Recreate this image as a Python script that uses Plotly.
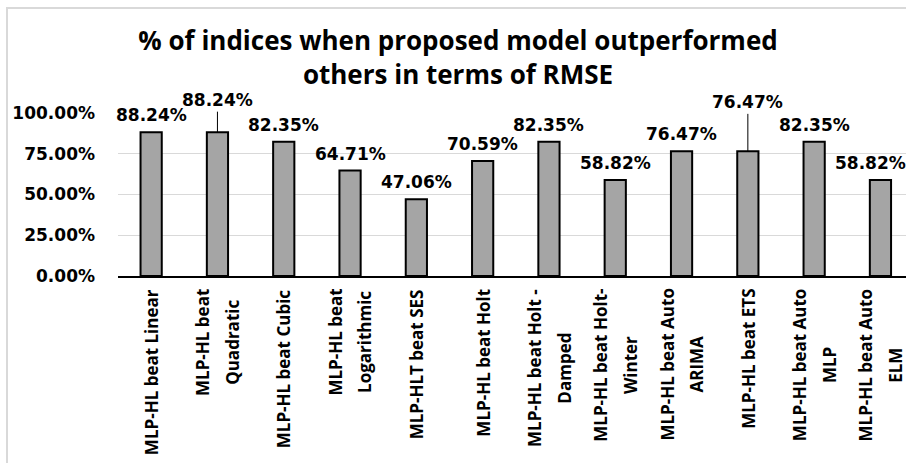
import plotly.graph_objects as go

# Share of indices where MLP-HL had lower RMSE than each competitor
categories = [
    "MLP-HL beat Linear",
    "MLP-HL beat<br>Quadratic",
    "MLP-HL beat Cubic",
    "MLP-HL beat<br>Logarithmic",
    "MLP-HLT beat SES",
    "MLP-HL beat Holt",
    "MLP-HL beat Holt -<br>Damped",
    "MLP-HL beat Holt-<br>Winter",
    "MLP-HL beat Auto<br>ARIMA",
    "MLP-HL beat ETS",
    "MLP-HL beat Auto<br>MLP",
    "MLP-HL beat Auto<br>ELM",
]
values = [0.8824, 0.8824, 0.8235, 0.6471, 0.4706, 0.7059,
          0.8235, 0.5882, 0.7647, 0.7647, 0.8235, 0.5882]
value_labels = ["88.24%", "88.24%", "82.35%", "64.71%", "47.06%", "70.59%",
                "82.35%", "58.82%", "76.47%", "76.47%", "82.35%", "58.82%"]
y_ticks = [0, 0.25, 0.5, 0.75, 1.0]
y_tick_labels = ["0.00%", "25.00%", "50.00%", "75.00%", "100.00%"]

W, H = 906, 463
ML, MR, MT, MB = 118, 0, 113, 187
PLOT_W = W - ML - MR
PLOT_H = H - MT - MB

# category span per bar in px; the chart continues a little past the right edge
unit_px = 66.3
x_max = -0.5 + PLOT_W / unit_px

x_idx = list(range(len(categories)))

fig = go.Figure()
fig.add_trace(go.Bar(
    x=x_idx,
    y=values,
    width=0.32,
    marker=dict(color="#a5a5a5", line=dict(color="#000000", width=2)),
    hoverinfo="skip",
))

num_font = dict(family="DejaVu Sans", size=17, color="#000000", weight="bold")
# the outer size sets the line pitch, the inner span sets the glyph size
cat_font = dict(family="Open Sans", size=23, color="#000000", weight="bold")
cat_glyph_px = 17

annotations = []
# value labels; two of them sit higher with a leader line
leader_offsets = {1: -32, 9: -49}
x_shifts = {11: -10}
for i, (v, lab) in enumerate(zip(values, value_labels)):
    if i in leader_offsets:
        annotations.append(dict(
            x=i, y=v, xref="x", yref="y", text=lab, font=num_font,
            showarrow=True, arrowhead=0, arrowwidth=1, arrowcolor="#000000",
            ax=0, ay=leader_offsets[i], standoff=0,
        ))
    else:
        annotations.append(dict(
            x=i, y=v, xref="x", yref="y", text=lab, font=num_font,
            showarrow=False, yanchor="middle", yshift=17,
            xshift=x_shifts.get(i, 0),
        ))

# rotated category labels, lines centred on each other
for i, cat in enumerate(categories):
    text = "<br>".join(
        f"<span style='font-size:{cat_glyph_px}px'>{line}</span>"
        for line in cat.split("<br>")
    )
    annotations.append(dict(
        x=i, y=0, xref="x", yref="y", text=text, font=cat_font,
        showarrow=False, textangle=-90, align="center",
        xanchor="center", yanchor="top", yshift=-11,
    ))

# light chart frame along the top and left edges
def px_to_paper_x(px):
    return (px - ML) / PLOT_W

def px_to_paper_y(py):
    return (H - MB - py) / PLOT_H

frame = "#d9d9d9"
shapes = [
    dict(type="line", xref="paper", yref="paper",
         x0=px_to_paper_x(6), x1=px_to_paper_x(W + 5),
         y0=px_to_paper_y(8), y1=px_to_paper_y(8),
         line=dict(color=frame, width=2)),
    dict(type="line", xref="paper", yref="paper",
         x0=px_to_paper_x(7), x1=px_to_paper_x(7),
         y0=px_to_paper_y(8), y1=px_to_paper_y(H + 5),
         line=dict(color=frame, width=2)),
]

fig.update_layout(
    width=W, height=H,
    margin=dict(l=ML, r=MR, t=MT, b=MB, pad=0),
    paper_bgcolor="#ffffff", plot_bgcolor="#ffffff",
    showlegend=False,
    title=dict(
        text="% of indices when proposed model outperformed<br>others in terms of RMSE",
        font=dict(family="Open Sans", size=26, color="#000000", weight="bold"),
        xref="container", yref="container",
        x=458 / W, y=1 - 50 / H, xanchor="center", yanchor="middle",
    ),
    xaxis=dict(
        range=[-0.5, x_max],
        showticklabels=False, showgrid=False, zeroline=False,
        showline=True, linecolor="#000000", linewidth=2,
        ticks="", fixedrange=True,
    ),
    yaxis=dict(
        range=[0, 1.0],
        tickvals=y_ticks, ticktext=y_tick_labels,
        tickfont=num_font,
        showgrid=True, gridcolor="#d9d9d9", gridwidth=1,
        zeroline=False, showline=False, ticks="",
        ticklabelstandoff=22, fixedrange=True,
    ),
    annotations=annotations,
    shapes=shapes,
)

fig.write_html("out.html")
